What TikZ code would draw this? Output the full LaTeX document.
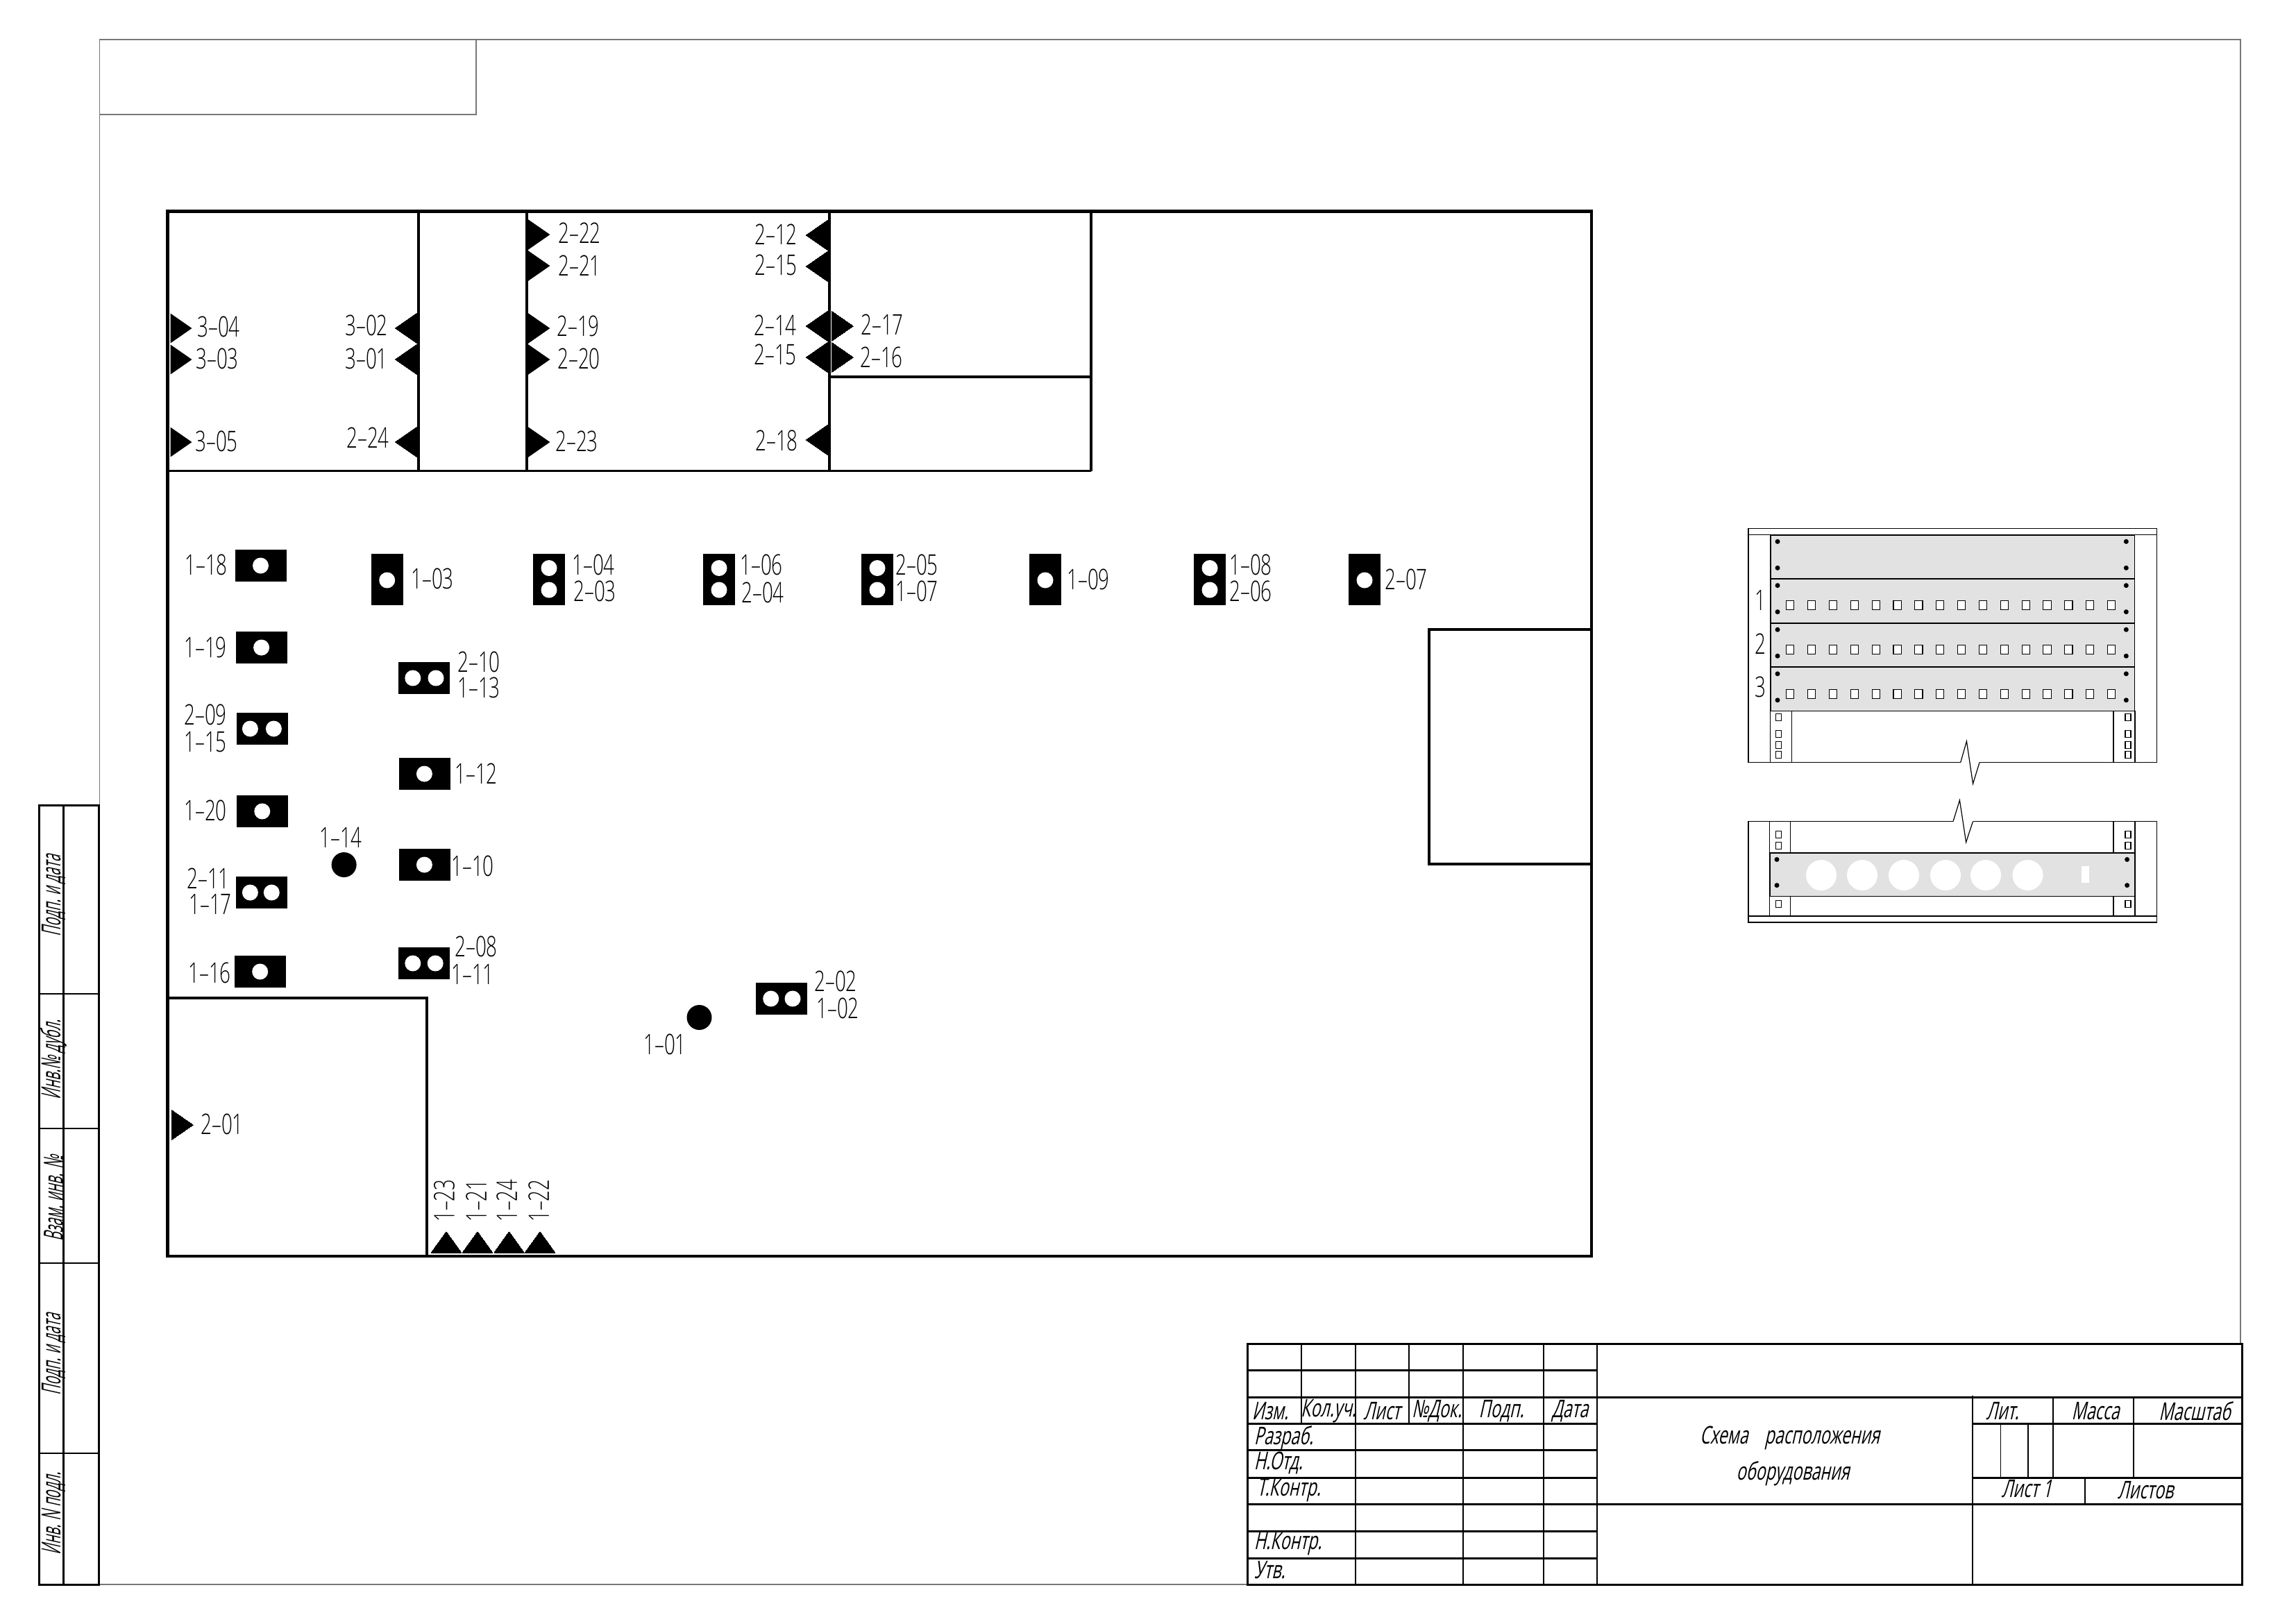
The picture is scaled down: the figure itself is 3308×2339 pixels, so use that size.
\documentclass[tikz,border=0pt]{standalone}
\usepackage{fontspec}
\setmainfont{Open Sans Light}
\newfontfamily\labfont[FakeStretch=0.68]{Open Sans Light}
\newfontfamily\tblfont[FakeStretch=0.66,FakeSlant=0.22]{Open Sans}
\newfontfamily\stripfont[FakeStretch=0.5,FakeSlant=0.22]{Open Sans}
\definecolor{panelgray}{HTML}{E2E2E2}
\definecolor{framegray}{HTML}{777777}
\newcounter{nd}
\newcommand{\Lab}[3]{\stepcounter{nd}\node[lbl] (n\thend) at (#1,#2) {#3};}
\newcommand{\TriR}[2]{\fill[blk] (#1,#2-21.5) -- (#1+31,#2) -- (#1,#2+21.5) -- cycle;}
\newcommand{\TriL}[2]{\fill[blk] (#1,#2-21.5) -- (#1-31,#2) -- (#1,#2+21.5) -- cycle;}
\tikzset{
 x=0.25pt,y=-0.25pt,
 lbl/.style={inner sep=0,font=\fontsize{10.2}{11}\selectfont\labfont},
 tbl/.style={inner sep=0,font=\fontsize{8.8}{10}\selectfont\tblfont},
 tbll/.style={tbl,anchor=west},
 strip/.style={inner sep=0,rotate=90,font=\fontsize{9.5}{10}\selectfont\stripfont},
 blk/.style={fill=black},
 hole/.style={fill=white},
 wall/.style={draw=black,line width=1.15pt},
 part/.style={draw=black,line width=0.8pt},
 thick2/.style={draw=black,line width=0.75pt},
 thin2/.style={draw=black,line width=0.45pt},
 fr/.style={draw=framegray,line width=0.35pt},
 rk/.style={draw=black,line width=0.3pt},
 rkh/.style={draw=black,line width=0.45pt},
 port/.style={draw=black,fill=white,line width=0.28pt},
}
\begin{document}
\begin{tikzpicture}
\useasboundingbox (0,0) rectangle (3308,2339);
% ---- sheet frame
\draw[fr] (143.5,2283) -- (143.5,57) -- (3228,57) -- (3228,1936);
\draw[fr] (143.5,165) -- (686,165) -- (686,57);
\draw[fr] (143.5,2283) -- (1797,2283);
% ---- side strip
\draw[thick2] (56.7,1160) rectangle (142.7,2283);
\draw[thick2] (91,1160) -- (91,2283);
\foreach \yy in {1432,1626,1820,2094} \draw[thin2] (56.7,\yy) -- (142.7,\yy);
\node[strip] (s1) at (77,1291) {Подп. и дата};
\node[strip] (s2) at (77,1527) {Инв.№ дубл.};
\node[strip] (s3) at (77,1727) {Взам. инв. №};
\node[strip] (s4) at (77,1952) {Подп. и дата};
\node[strip] (s5) at (77,2181) {Инв. N подл.};
% ---- title block
\draw[thick2] (1797.5,1936) -- (3230,1936) -- (3230,2283) -- (1797.5,2283) -- cycle;
\draw[thick2] (1797.5,1974) -- (2301,1974);
\draw[thick2] (1797.5,2013) -- (3230,2013);
\draw[thick2] (1797.5,2051) -- (2301,2051);
\draw[thick2] (2842,2051) -- (3230,2051);
\draw[thick2] (1797.5,2089) -- (2301,2089);
\draw[thick2] (1797.5,2129) -- (2301,2129);
\draw[thick2] (2842,2129) -- (3230,2129);
\draw[thick2] (1797.5,2167) -- (3230,2167);
\draw[thick2] (1797.5,2206) -- (2301,2206);
\draw[thick2] (1797.5,2245) -- (2301,2245);
\foreach \xx in {1875,2030} \draw[thin2] (\xx,1936) -- (\xx,2051);
\foreach \xx in {1953,2108,2224,2301} \draw[thin2] (\xx,1936) -- (\xx,2283);
\draw[thin2] (2842,2011) -- (2842,2283);
\foreach \xx in {2958,3074} \draw[thin2] (\xx,2013) -- (\xx,2129);
\foreach \xx in {2882.5,2922} \draw[thin2] (\xx,2051) -- (\xx,2129);
\draw[thin2] (3004,2129) -- (3004,2167);
\node[tbl] (t1) at (1830,2033) {Изм.};
\node[tbl] (t2) at (1914,2033) {Кол.уч.};
\node[tbl] (t3) at (1991,2033) {Лист};
\node[tbl] (t4) at (2070,2033) {№Док.};
\node[tbl] (t5) at (2163,2033) {Подп.};
\node[tbl] (t6) at (2262,2033) {Дата};
\node[tbll] (t7) at (1806,2072) {Разраб.};
\node[tbll] (t8) at (1806,2108) {Н.Отд.};
\node[tbll] (t9) at (1810,2147) {Т.Контр.};
\node[tbll] (t10) at (1806,2224) {Н.Контр.};
\node[tbll] (t11) at (1806,2262) {Утв.};
\node[tbl] (t12) at (2578.5,2072) {Схема\hspace{6pt}расположения};
\node[tbl] (t13) at (2583,2123) {оборудования};
\node[tbl] (t14) at (2885,2033) {Лит.};
\node[tbl] (t15) at (3019,2033) {Масса};
\node[tbl] (t16) at (3162,2033) {Масштаб};
\node[tbl] (t17) at (2920,2145) {Лист 1};
\node[tbl] (t18) at (3091,2147) {Листов};
% ---- plan walls
\draw[wall] (241.5,304.5) rectangle (2293,1810);
\draw[part] (241.5,678.5) -- (1572,678.5);
\draw[part] (603,304.5) -- (603,678.5);
\draw[part] (759,304.5) -- (759,678.5);
\draw[part] (1195,304.5) -- (1195,678.5);
\draw[part] (1572,304.5) -- (1572,678.5);
\draw[part] (1195,543) -- (1572,543);
\draw[part] (241.5,1438) -- (615,1438) -- (615,1810);
\draw[part] (2293,907) -- (2059,907) -- (2059,1245) -- (2293,1245);
% ---- wall sockets
\foreach \yy in {473,518,637} \TriR{245.5}{\yy}
\foreach \yy in {338,383,473,518,637} \TriR{761}{\yy}
\foreach \yy in {473,518,637} \TriL{600.5}{\yy}
\foreach \yy in {339,384,470,515,634} \TriL{1192.5}{\yy}
\foreach \yy in {470,515} \TriR{1198}{\yy}
\TriR{247}{1621}
\foreach \xx in {643,688,733.5,778} \fill[blk] (\xx-21.5,1805) -- (\xx,1775) -- (\xx+21.5,1805) -- cycle;
\Lab{315}{471}{3–04}\Lab{313}{517}{3–03}\Lab{312}{636}{3–05}
\Lab{528}{469}{3–02}\Lab{528}{517}{3–01}\Lab{530}{631}{2–24}
\Lab{835}{336}{2–22}\Lab{835}{383}{2–21}\Lab{833}{470}{2–19}\Lab{834}{517}{2–20}\Lab{831}{636}{2–23}
\Lab{1118}{338}{2–12}\Lab{1118}{382}{2–15}\Lab{1117}{469}{2–14}\Lab{1117}{511}{2–15}\Lab{1119}{635}{2–18}
\Lab{1271}{468}{2–17}\Lab{1270}{515}{2–16}
\Lab{320}{1620}{2–01}
\foreach \xx/\tt in {640/1–23,686/1–21,730/1–24,776/1–22}{
 \stepcounter{nd}\node[lbl,rotate=90] (n\thend) at (\xx,1730) {\tt};}
% ---- horizontal boxes
\foreach \xa/\ya/\xb in {338.7/792/375.5,339.5/910/376.6,340.7/1146/377.8,338/1377/374.7,574.7/1092/611.4,574.7/1223/611.4}{
 \fill[blk] (\xa,\ya) rectangle (\xa+74,\ya+46);
 \fill[hole] (\xb,\ya+23) circle (11.5);}
\foreach \xa/\ya/\xb/\xc in {340.7/1027/360.4/394.4,339.5/1263/360.4/391.3,574/954/594.8/628,574/1365/594.8/627.2,1089/1416/1110.7/1142}{
 \fill[blk] (\xa,\ya) rectangle (\xa+74,\ya+46);
 \fill[hole] (\xb,\ya+23) circle (11.5);
 \fill[hole] (\xc,\ya+23) circle (11.5);}
% ---- vertical boxes
\foreach \xa in {534.7,1483,1943}{
 \fill[blk] (\xa,798) rectangle (\xa+46,872);
 \fill[hole] (\xa+23,836) circle (11.5);}
\foreach \xa in {768,1013,1241,1720}{
 \fill[blk] (\xa,798) rectangle (\xa+46,872);
 \fill[hole] (\xa+23,818.5) circle (11.5);
 \fill[hole] (\xa+23,850) circle (11.5);}
% ---- round points
\fill[blk] (495.6,1246) circle (18);
\fill[blk] (1007.5,1466) circle (18);
% ---- device labels
\Lab{297}{814}{1–18}\Lab{296}{933}{1–19}\Lab{296}{1030}{2–09}\Lab{296}{1069}{1–15}
\Lab{296}{1168}{1–20}\Lab{300}{1266}{2–11}\Lab{303}{1303}{1–17}\Lab{302}{1402}{1–16}
\Lab{623}{834}{1–03}\Lab{855}{814}{1–04}\Lab{857}{852}{2–03}
\Lab{1097}{814}{1–06}\Lab{1099}{854}{2–04}\Lab{1321}{814}{2–05}\Lab{1321}{852}{1–07}
\Lab{1568}{835}{1–09}\Lab{1802}{814}{1–08}\Lab{1802}{852}{2–06}\Lab{2026}{835}{2–07}
\Lab{690}{954}{2–10}\Lab{690}{991}{1–13}\Lab{686}{1115}{1–12}\Lab{681}{1248}{1–10}
\Lab{686}{1364}{2–08}\Lab{681}{1404}{1–11}\Lab{491}{1207}{1–14}
\Lab{1204}{1414}{2–02}\Lab{1207}{1453}{1–02}\Lab{958}{1505}{1–01}
% ---- rack, upper part
\draw[rk] (2519,761.7) rectangle (3107.5,770.8);
\draw[rkh] (2824.7,1098.5) -- (2519,1098.5) -- (2519,770.8);
\draw[rkh] (3107.5,770.8) -- (3107.5,1098.5) -- (2852,1098.5);
\draw[rk] (2824.7,1098.5) -- (2833.4,1068) -- (2842.5,1129.3) -- (2852,1098.5);
\foreach \xa in {2550.7,3045}{\draw[rk] (\xa,1024.6) rectangle (\xa+31,1098.5);}
\foreach \ya in {770.8,834,898,961}{
 \fill[panelgray] (2550.7,\ya) rectangle (3075.4,\ya+63.5);
 \draw[rkh] (2550.7,\ya) rectangle (3075.4,\ya+63.5);}
\foreach \ya in {780.3,843.6,907.2,970.8}{
 \foreach \xa in {2561,3063.3}{
  \fill[blk] (\xa,\ya) circle (3.5);
  \fill[blk] (\xa,\ya+38) circle (3.5);}}
\foreach \ya in {872.4,936.4,1000}{
 \foreach \i in {0,...,15}{
  \draw[port] ({2579.3+\i*30.85-5.6},\ya-6.5) rectangle ({2579.3+\i*30.85+5.6},\ya+6.5);}}
\foreach \ya in {1033.7,1057.8,1073.2,1087.4,1202.9,1218.3,1302.5}{
 \foreach \xa in {2562.4,3065.9}{
  \draw[port] (\xa-4,\ya-5) rectangle (\xa+4,\ya+5);}}
\Lab{2536}{865}{1}\Lab{2536}{928}{2}\Lab{2536}{990}{3}
% ---- rack, lower part
\draw[rkh] (2814,1183.5) -- (2519,1183.5) -- (2519,1320);
\draw[rkh] (3107.5,1320) -- (3107.5,1183.5) -- (2842.5,1183.5);
\draw[rk] (2814,1183.5) -- (2823.4,1153) -- (2832.6,1213.5) -- (2842.5,1183.5);
\draw[rk] (2549.4,1183.5) -- (2549.4,1320);
\draw[rk] (2579.7,1183.5) -- (2579.7,1320);
\draw[rk] (3045,1183.5) -- (3045,1320);
\draw[rkh] (3076,1183.5) -- (3076,1320);
\draw[rk] (2519,1320) rectangle (3107.5,1329);
\fill[panelgray] (2550,1229) rectangle (3076,1291.4);
\draw[rk] (2550,1229) rectangle (3076,1291.4);
\foreach \xa in {2624,2683,2743,2803,2861,2921.5} \fill[hole] (\xa,1261) circle (22);
\fill[hole] (2998.6,1248) rectangle (3010.4,1271.6);
\foreach \xa in {2560,3064.6}{
 \fill[blk] (\xa,1238.4) circle (3.5);
 \fill[blk] (\xa,1275.6) circle (3.5);}
\end{tikzpicture}
\end{document}
